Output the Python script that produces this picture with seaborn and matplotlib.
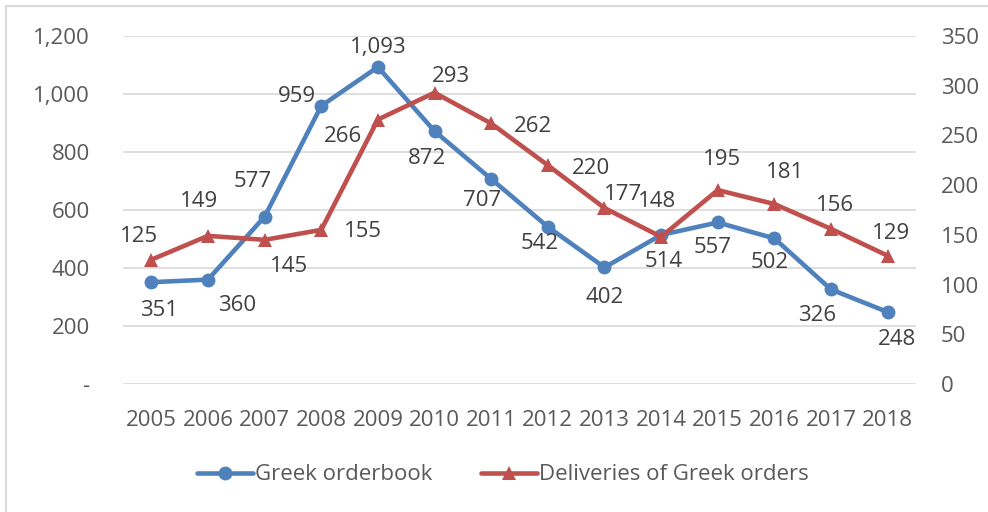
import matplotlib

matplotlib.use("Agg")
import matplotlib.pyplot as plt
from matplotlib.patches import Rectangle
from matplotlib.ticker import FuncFormatter, MultipleLocator
import pandas as pd
import seaborn as sns

years = [str(y) for y in range(2005, 2019)]
orderbook = [351, 360, 577, 959, 1093, 872, 707, 542, 402, 514, 557, 502, 326, 248]
deliveries = [125, 149, 145, 155, 266, 293, 262, 220, 177, 148, 195, 181, 156, 129]

# label offsets in pixels (dx, dy), hand placed like the excel original
blue_offsets = [(8, -28), (29, -26), (-12, 35), (-24, 9), (0, 20), (-8, -27), (-9, -22),
                (-8, -17), (0, -30), (3, -27), (-5, -25), (-5, -24), (-14, -26), (9, -27)]
red_offsets = [(-12, 23), (-9, 34), (24, -27), (42, -2), (-35, -17), (16, 16), (42, -3),
               (43, -3), (19, 14), (-4, 35), (4, 31), (11, 32), (4, 23), (3, 22)]

df = pd.DataFrame({"pos": range(len(years)), "year": years,
                   "orderbook": orderbook, "deliveries": deliveries})

sns.set_theme(style="white")
plt.rcParams["font.family"] = ["Open Sans", "DejaVu Sans"]

blue = "#4F81BD"
red = "#C0504D"
tick_col = "#595959"
label_col = "#404040"
fs = 16

fig = plt.figure(figsize=(9.88, 5.12), dpi=100)
ax = fig.add_axes([123 / 988, 1 - 384 / 512, (916 - 123) / 988, (384 - 36) / 512])
ax2 = ax.twinx()

sns.lineplot(data=df, x="pos", y="orderbook", ax=ax, color=blue, linewidth=3.3,
             marker="o", markersize=10, markeredgewidth=0, label="Greek orderbook",
             legend=False)
sns.lineplot(data=df, x="pos", y="deliveries", ax=ax2, color=red, linewidth=3.3,
             marker="^", markersize=10.5, markeredgewidth=0,
             label="Deliveries of Greek orders", legend=False)

ax.set_xlim(-0.5, len(years) - 0.5)
ax.set_ylim(0, 1200)
ax2.set_ylim(0, 350)
ax.yaxis.set_major_locator(MultipleLocator(200))
ax2.yaxis.set_major_locator(MultipleLocator(50))
ax.yaxis.set_major_formatter(FuncFormatter(lambda v, p: "-" if v == 0 else f"{v:,.0f}"))
ax.set_xticks(df["pos"])
ax.set_xticklabels(years)

ax.grid(axis="y", color="#D9D9D9", linewidth=1.2)
ax.set_axisbelow(True)
for a in (ax, ax2):
    for s in a.spines.values():
        s.set_visible(False)
    a.set_xlabel("")
    a.set_ylabel("")
ax.tick_params(axis="both", length=0, labelsize=fs, labelcolor=tick_col)
ax.tick_params(axis="y", pad=24)
ax.tick_params(axis="x", pad=19)
ax2.tick_params(axis="y", length=0, labelsize=fs, labelcolor=tick_col, pad=18)

for i in range(len(years)):
    ax.annotate(f"{orderbook[i]:,}", (i, orderbook[i]), xytext=blue_offsets[i],
                textcoords="offset pixels", ha="center", va="center",
                fontsize=fs, color=label_col)
    ax2.annotate(f"{deliveries[i]:,}", (i, deliveries[i]), xytext=red_offsets[i],
                 textcoords="offset pixels", ha="center", va="center",
                 fontsize=fs, color=label_col)

h1, l1 = ax.get_legend_handles_labels()
h2, l2 = ax2.get_legend_handles_labels()
fig.legend(h1 + h2, l1 + l2, loc="center", bbox_to_anchor=(503 / 988, 1 - 475 / 512),
           ncol=2, frameon=False, fontsize=fs, labelcolor=tick_col,
           handlelength=2.5, handletextpad=0.1, columnspacing=2.2)

# light frame like the excel chart area (only left/top edges are visible)
fig.patches.append(Rectangle((6 / 988, -0.1), 1.0, 1.1 - 6 / 512, transform=fig.transFigure,
                             fill=False, edgecolor="#D9D9D9", linewidth=1.5))

fig.savefig("out.png", dpi=100)
